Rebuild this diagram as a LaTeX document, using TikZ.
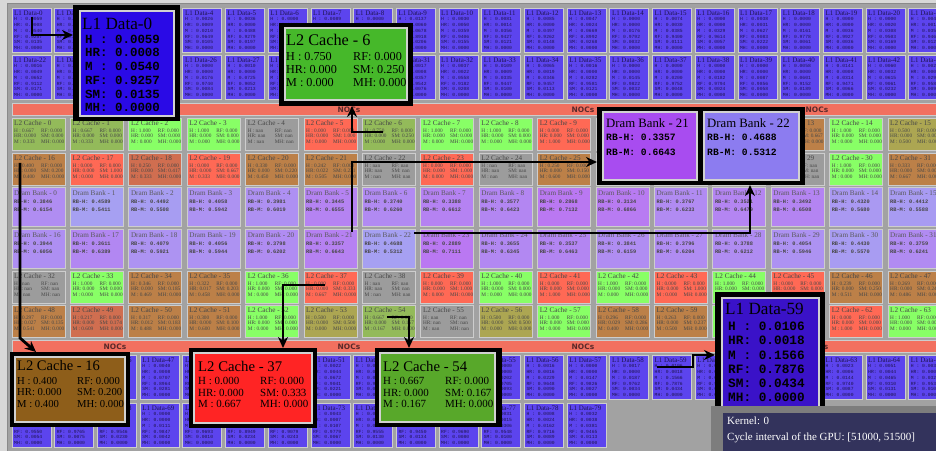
\documentclass[tikz,border=0pt]{standalone}
\usepackage{fontspec}
\setmainfont{Liberation Serif}
\setmonofont{Liberation Mono}
\setsansfont{DejaVu Sans}
\usetikzlibrary{arrows.meta}
\definecolor{outerbg}{HTML}{D8D8D8}
\definecolor{panel}{HTML}{A2A2A2}
\definecolor{paneledge}{HTML}{8A8A8A}
\definecolor{tileedge}{HTML}{CDCDCD}
\definecolor{lonec}{HTML}{5C44EE}
\definecolor{lonetext}{HTML}{1E1450}
\definecolor{nocc}{HTML}{F2705F}
\definecolor{noctext}{HTML}{5A2A2A}
\definecolor{cgreen}{HTML}{88FF66}
\definecolor{cred}{HTML}{FF6955}
\definecolor{cgray}{HTML}{9C9C9C}
\definecolor{cbrown}{HTML}{BC8048}
\definecolor{cbrownred}{HTML}{D06E50}
\definecolor{colive}{HTML}{ACA652}
\definecolor{colgreen}{HTML}{93BA5A}
\definecolor{dpurp}{HTML}{BA78F2}
\definecolor{dlav}{HTML}{A6A0F2}
\definecolor{bigLoneA}{HTML}{2A0AE6}
\definecolor{bigLoneB}{HTML}{3A12C8}
\definecolor{bigSix}{HTML}{46B82A}
\definecolor{bigSixteen}{HTML}{8E5E1A}
\definecolor{bigThirtySeven}{HTML}{FF2424}
\definecolor{bigFiftyFour}{HTML}{58A82A}
\definecolor{bigDramA}{HTML}{A84CF0}
\definecolor{bigDramB}{HTML}{8C7CF0}
\definecolor{infoframe}{HTML}{7D7D7D}
\definecolor{infobg}{HTML}{33335C}
\tikzset{
  tilebox/.style={draw=tileedge, line width=0.8bp, inner sep=0, outer sep=0, anchor=north west},
  lonetile/.style={tilebox, fill=lonec, minimum width=39bp, minimum height=44.5bp},
  ltwotile/.style={tilebox, minimum width=53bp, minimum height=32bp},
  dbtile/.style={tilebox, minimum width=53bp, minimum height=39bp},
  lonettl/.style={anchor=west, inner sep=0, text=lonetext, font=\fontsize{7}{8}\selectfont},
  loneval/.style={anchor=north west, inner sep=0, align=left, text=lonetext, font=\fontsize{4.7}{5.8}\ttfamily},
  ltwottl/.style={anchor=west, inner sep=0, text=black!72, font=\fontsize{7.2}{8}\selectfont},
  ltwoval/.style={anchor=north west, inner sep=0, align=left, text=black!72, font=\fontsize{5.3}{5.5}\selectfont},
  dbttl/.style={anchor=west, inner sep=0, text=black!65, font=\fontsize{7.2}{8}\selectfont},
  dbval/.style={anchor=north west, inner sep=0, align=left, text=black!72, font=\fontsize{5.3}{8}\ttfamily\bfseries},
  nocbar/.style={fill=nocc, draw=tileedge, line width=0.6bp, inner sep=0, anchor=north west, minimum width=940bp, minimum height=12.5bp},
  noclbl/.style={inner sep=0, text=noctext, font=\fontsize{7.5}{8}\sffamily\bfseries},
  bigframe/.style={fill=black, inner sep=0, outer sep=0, anchor=north west},
  biginner/.style={draw=black!18, line width=1.4bp, inner sep=0, outer sep=0, anchor=north west},
  bigttl/.style={anchor=west, inner sep=0, text=black},
  conn/.style={line width=2.8bp, -{Stealth[length=11bp,width=10bp]}},
}
\begin{document}
\begin{tikzpicture}[x=1bp,y=-1bp]
\useasboundingbox (0,0) rectangle (936,451);
\clip (0,0) rectangle (936,451);
\fill[outerbg] (0,0) rectangle (936,451);
\filldraw[fill=panel, draw=paneledge, line width=0.8bp] (7,3.5) rectangle (945,460);

% ---------------- L1 data tiles
\foreach \i/\vH/\vHR/\vM/\vRF/\vSM in {
0/0.0059/0.0008/0.0540/0.9257/0.0135,
1/0.0041/0.0012/0.0498/0.9302/0.0147,
2/0.0023/0.0000/0.0312/0.9581/0.0084,
3/0.0067/0.0021/0.0603/0.9154/0.0155,
4/0.0026/0.0009/0.0210/0.9649/0.0105,
5/0.0036/0.0000/0.0488/0.9279/0.0197,
6/0.0000/0.0000/0.0263/0.9644/0.0093,
7/0.0089/0.0015/0.0521/0.9188/0.0187,
8/0.0000/0.0000/0.0198/0.9736/0.0066,
9/0.0137/0.0060/0.0678/0.8918/0.0206,
10/0.0030/0.0050/0.0359/0.9406/0.0155,
11/0.0081/0.0014/0.0356/0.9427/0.0121,
12/0.0085/0.0000/0.0497/0.9262/0.0148,
13/0.0047/0.0024/0.0669/0.8992/0.0268,
14/0.0000/0.0000/0.0176/0.9792/0.0032,
15/0.0074/0.0030/0.0385/0.9400/0.0111,
16/0.0000/0.0000/0.0329/0.9614/0.0057,
17/0.0038/0.0031/0.0627/0.9083/0.0222,
18/0.0000/0.0000/0.0161/0.9778/0.0061,
19/0.0000/0.0000/0.0036/0.9927/0.0036,
20/0.0000/0.0020/0.0308/0.9503/0.0169,
21/0.0044/0.0011/0.0352/0.9468/0.0125,
22/0.0016/0.0049/0.0652/0.9112/0.0171,
23/0.0052/0.0007/0.0431/0.9376/0.0134,
24/0.0000/0.0000/0.0247/0.9689/0.0064,
25/0.0029/0.0018/0.0573/0.9221/0.0159,
26/0.0000/0.0000/0.0176/0.9740/0.0084,
27/0.0010/0.0000/0.0725/0.9052/0.0213,
28/0.0063/0.0022/0.0384/0.9417/0.0114,
29/0.0000/0.0000/0.0139/0.9815/0.0046,
30/0.0048/0.0013/0.0466/0.9326/0.0147,
31/0.0017/0.0008/0.0357/0.9542/0.0076,
32/0.0037/0.0022/0.0558/0.9182/0.0208,
33/0.0109/0.0009/0.0335/0.9447/0.0100,
34/0.0065/0.0019/0.0346/0.9457/0.0113,
35/0.0016/0.0000/0.0282/0.9581/0.0121,
36/0.0000/0.0000/0.0145/0.9822/0.0032,
37/0.0000/0.0000/0.0200/0.9752/0.0048,
38/0.0000/0.0000/0.0182/0.9794/0.0024,
39/0.0000/0.0000/0.0087/0.9856/0.0058,
40/0.0058/0.0000/0.0601/0.9152/0.0189,
41/0.0141/0.0008/0.0314/0.9471/0.0066,
42/0.0060/0.0032/0.0615/0.9061/0.0232,
43/0.0027/0.0006/0.0293/0.9583/0.0091,
44/0.0035/0.0012/0.0388/0.9446/0.0119,
45/0.0000/0.0000/0.0213/0.9711/0.0076,
46/0.0071/0.0017/0.0512/0.9231/0.0169,
47/0.0040/0.0008/0.0707/0.8964/0.0281,
48/0.0019/0.0004/0.0341/0.9552/0.0084,
49/0.0046/0.0021/0.0459/0.9337/0.0137,
50/0.0000/0.0000/0.0162/0.9793/0.0045,
51/0.0022/0.0044/0.0672/0.9041/0.0221,
52/0.0058/0.0010/0.0404/0.9392/0.0136,
53/0.0013/0.0000/0.0255/0.9661/0.0071,
54/0.0087/0.0026/0.0566/0.9143/0.0178,
55/0.0000/0.0000/0.0202/0.9705/0.0093,
56/0.0016/0.0016/0.0229/0.9648/0.0090,
57/0.0000/0.0000/0.0147/0.9826/0.0027,
58/0.0017/0.0000/0.0187/0.9762/0.0034,
59/0.0106/0.0018/0.1566/0.7876/0.0434,
60/0.0039/0.0011/0.0328/0.9513/0.0109,
61/0.0051/0.0000/0.0442/0.9357/0.0150,
62/0.0000/0.0000/0.0178/0.9773/0.0049,
63/0.0023/0.0006/0.0144/0.9740/0.0087,
64/0.0051/0.0044/0.0465/0.9310/0.0131,
65/0.0030/0.0009/0.0327/0.9531/0.0103,
66/0.0014/0.0007/0.0375/0.9550/0.0054,
67/0.0000/0.0000/0.0160/0.9765/0.0075,
68/0.0028/0.0012/0.0184/0.9546/0.0230,
69/0.0000/0.0000/0.0111/0.9847/0.0042,
70/0.0019/0.0000/0.0278/0.9693/0.0010,
71/0.0064/0.0025/0.0728/0.8949/0.0234,
72/0.0057/0.0031/0.0590/0.9079/0.0243,
73/0.0043/0.0007/0.0107/0.9779/0.0067,
74/0.0012/0.0005/0.0298/0.9555/0.0130,
75/0.0033/0.0016/0.0367/0.9450/0.0134,
76/0.0000/0.0000/0.0230/0.9690/0.0080,
77/0.0031/0.0015/0.0306/0.9548/0.0100,
78/0.0008/0.0024/0.0162/0.9716/0.0089,
79/0.0032/0.0038/0.0381/0.9465/0.0113}{
  \pgfmathsetmacro\tx{12+42.7*mod(\i,22)}
  \pgfmathsetmacro\ty{{8,55,355,403}[int(\i/22)]}
  \node[lonetile] (l1-\i) at (\tx,\ty) {};
  \node[lonettl] (l1t-\i) at ([shift={(2,5.5)}]l1-\i.north west) {L1 Data-\i};
  \node[loneval] (l1v-\i) at ([shift={(2,9.5)}]l1-\i.north west) {H : \vH\\HR: \vHR\\M : \vM\\RF: \vRF\\SM: \vSM\\MH: 0.0000};
}

% ---------------- NoC bars
\node[nocbar] (noc-top) at (12,103) {};
\node[nocbar] (noc-bot) at (12,340) {};
\foreach \k/\xx in {1/115,2/349,3/583,4/817}{
  \node[noclbl] (noct-\k) at (\xx,109.3) {NOCs};
  \node[noclbl] (nocb-\k) at (\xx,346.3) {NOCs};
}

% ---------------- L2 cache tiles
\foreach \i/\cc/\vH/\vHR/\vM/\vRF/\vSM/\vMH in {
0/colgreen/0.667/0.000/0.333/0.000/0.000/0.000,
1/colgreen/0.667/0.000/0.333/0.000/0.000/0.000,
2/cgreen/1.000/0.000/0.000/0.000/0.000/0.000,
3/cgreen/1.000/0.000/0.000/0.000/0.000/0.000,
4/cgray/nan/nan/nan/nan/nan/nan,
5/cred/0.000/0.000/0.000/0.000/1.000/0.000,
6/colgreen/0.750/0.000/0.000/0.000/0.250/0.000,
7/cgreen/1.000/0.000/0.000/0.000/0.000/0.000,
8/cgreen/1.000/0.000/0.000/0.000/0.000/0.000,
9/cred/0.000/0.000/1.000/0.000/0.000/0.000,
10/cgreen/1.000/0.000/0.000/0.000/0.000/0.000,
11/cbrown/0.400/0.000/0.400/0.000/0.200/0.000,
12/cred/0.000/0.000/1.000/0.000/0.000/0.000,
13/cbrown/0.333/0.000/0.000/0.000/0.667/0.000,
14/cgreen/1.000/0.000/0.000/0.000/0.000/0.000,
15/colive/0.500/0.000/0.500/0.000/0.000/0.000,
16/cbrown/0.400/0.000/0.400/0.000/0.200/0.000,
17/cred/0.000/0.000/0.000/0.000/1.000/0.000,
18/cbrownred/0.250/0.000/0.333/0.000/0.417/0.000,
19/cred/0.000/0.000/0.333/0.000/0.667/0.000,
20/cbrown/0.330/0.000/0.450/0.000/0.220/0.000,
21/cbrown/0.242/0.022/0.505/0.000/0.231/0.000,
22/cgray/nan/nan/nan/nan/nan/nan,
23/cred/0.000/0.000/0.000/0.000/1.000/0.000,
24/cgray/nan/nan/nan/nan/nan/nan,
25/cbrown/0.250/0.000/0.600/0.000/0.150/0.000,
26/cgreen/1.000/0.000/0.000/0.000/0.000/0.000,
27/cbrown/0.286/0.000/0.571/0.000/0.143/0.000,
28/cgray/nan/nan/nan/nan/nan/nan,
29/cgray/nan/nan/nan/nan/nan/nan,
30/cgreen/1.000/0.000/0.000/0.000/0.000/0.000,
31/cbrown/0.333/0.000/0.667/0.000/0.000/0.000,
32/cgray/nan/nan/nan/nan/nan/nan,
33/cgreen/1.000/0.000/0.000/0.000/0.000/0.000,
34/cbrown/0.346/0.000/0.469/0.000/0.185/0.000,
35/cbrown/0.322/0.017/0.458/0.000/0.203/0.000,
36/cgreen/1.000/0.000/0.000/0.000/0.000/0.000,
37/cred/0.000/0.000/0.667/0.000/0.333/0.000,
38/cgray/nan/nan/nan/nan/nan/nan,
39/cred/0.000/0.000/0.000/0.000/1.000/0.000,
40/cgreen/1.000/0.000/0.000/0.000/0.000/0.000,
41/cred/0.000/0.000/1.000/0.000/0.000/0.000,
42/cgreen/1.000/0.000/0.000/0.000/0.000/0.000,
43/cred/0.000/0.000/0.000/0.000/1.000/0.000,
44/cgreen/1.000/0.000/0.000/0.000/0.000/0.000,
45/cred/0.000/0.000/1.000/0.000/0.000/0.000,
46/cbrown/0.239/0.000/0.511/0.000/0.250/0.000,
47/cbrown/0.269/0.000/0.486/0.000/0.245/0.000,
48/cbrown/0.297/0.027/0.541/0.000/0.135/0.000,
49/cbrownred/0.217/0.000/0.609/0.000/0.174/0.000,
50/cbrown/0.317/0.012/0.488/0.000/0.183/0.000,
51/cbrown/0.300/0.000/0.600/0.000/0.100/0.000,
52/cgreen/1.000/0.000/0.000/0.000/0.000/0.000,
53/colive/0.500/0.000/0.000/0.000/0.500/0.000,
54/colgreen/0.667/0.000/0.167/0.000/0.167/0.000,
55/cgray/nan/nan/nan/nan/nan/nan,
56/colive/0.500/0.000/0.000/0.000/0.500/0.000,
57/cgreen/1.000/0.000/0.000/0.000/0.000/0.000,
58/cbrown/0.296/0.029/0.400/0.000/0.286/0.000,
59/cbrown/0.263/0.000/0.500/0.000/0.237/0.000,
60/cgreen/1.000/0.000/0.000/0.000/0.000/0.000,
61/cbrown/0.333/0.000/0.500/0.000/0.167/0.000,
62/cred/0.000/0.000/1.000/0.000/0.000/0.000,
63/cgreen/1.000/0.000/0.000/0.000/0.000/0.000}{
  \pgfmathsetmacro\tx{12+58.4*mod(\i,16)}
  \pgfmathsetmacro\ty{{118,153,271,305}[int(\i/16)]}
  \node[ltwotile, fill=\cc] (l2-\i) at (\tx,\ty) {};
  \node[ltwottl] (l2t-\i) at ([shift={(2,5.5)}]l2-\i.north west) {L2 Cache - \i};
  \node[ltwoval] (l2v-\i) at ([shift={(2,10.5)}]l2-\i.north west)
    {\makebox[27bp][l]{H : \vH}RF: \vRF\\\makebox[27bp][l]{HR: \vHR}SM: \vSM\\\makebox[27bp][l]{M : \vM}MH: \vMH};
}

% ---------------- DRAM bank tiles
\foreach \i/\rh/\rm in {
0/0.3846/0.6154, 1/0.4589/0.5411, 2/0.4492/0.5508, 3/0.4058/0.5942,
4/0.3981/0.6019, 5/0.3445/0.6555, 6/0.3740/0.6260, 7/0.3388/0.6612,
8/0.3577/0.6423, 9/0.2868/0.7132, 10/0.3134/0.6866, 11/0.3767/0.6233,
12/0.3521/0.6479, 13/0.3492/0.6508, 14/0.4320/0.5680, 15/0.4412/0.5588,
16/0.3944/0.6056, 17/0.3611/0.6389, 18/0.4079/0.5921, 19/0.4056/0.5944,
20/0.3798/0.6202, 21/0.3357/0.6643, 22/0.4688/0.5312, 23/0.2889/0.7111,
24/0.3655/0.6345, 25/0.3537/0.6463, 26/0.3841/0.6159, 27/0.3796/0.6204,
28/0.3788/0.6212, 29/0.4054/0.5946, 30/0.4430/0.5570, 31/0.3759/0.6241}{
  \pgfmathsetmacro\tx{12+58.4*mod(\i,16)}
  \pgfmathsetmacro\ty{{187,229}[int(\i/16)]}
  \pgfmathtruncatemacro\mx{max(0,min(100,(\rh-0.30)*100/0.16))}
  \node[dbtile, fill=dlav!\mx!dpurp] (db-\i) at (\tx,\ty) {};
  \node[dbttl] (dbt-\i) at ([shift={(2,6)}]db-\i.north west) {Dram Bank - \i};
  \node[dbval] (dbv-\i) at ([shift={(2,12.5)}]db-\i.north west) {RB-H: \rh\\RB-M: \rm};
}

% ---------------- enlarged callouts
% L1 Data-0
\node[bigframe, minimum width=107bp, minimum height=116bp] (bx-l1-0) at (73,5) {};
\node[biginner, fill=bigLoneA, minimum width=94bp, minimum height=105bp] (bxi-l1-0) at (80,11) {};
\node[bigttl, font=\fontsize{17.2}{18}\selectfont] (bxt-l1-0) at (82,24) {L1 Data-0};
\node[anchor=north west, inner sep=0, align=left, font=\fontsize{12.5}{13.8}\ttfamily\bfseries] (bxv-l1-0) at (85,34.5)
  {H : 0.0059\\HR: 0.0008\\M : 0.0540\\RF: 0.9257\\SM: 0.0135\\MH: 0.0000};

% L1 Data-59
\node[bigframe, minimum width=110bp, minimum height=121bp] (bx-l1-59) at (715,292) {};
\node[biginner, fill=bigLoneB, minimum width=97bp, minimum height=109bp] (bxi-l1-59) at (722,298) {};
\node[bigttl, font=\fontsize{17.2}{18}\selectfont] (bxt-l1-59) at (725,309) {L1 Data-59};
\node[anchor=north west, inner sep=0, align=left, font=\fontsize{12.8}{14.2}\ttfamily\bfseries] (bxv-l1-59) at (728,322)
  {H : 0.0106\\HR: 0.0018\\M : 0.1566\\RF: 0.7876\\SM: 0.0434\\MH: 0.0000};

% L2 Cache - 6
\node[bigframe, minimum width=134bp, minimum height=83bp] (bx-l2-6) at (279,23) {};
\node[biginner, fill=bigSix, minimum width=122bp, minimum height=72bp] (bxi-l2-6) at (285,28) {};
\node[bigttl, font=\fontsize{16.3}{18}\selectfont] (bxt-l2-6) at (286,40) {L2 Cache - 6};
\node[anchor=north west, inner sep=0, align=left, font=\fontsize{12.2}{12.7}\selectfont] (bxv-l2-6) at (286,52.5)
  {\makebox[67bp][l]{H : 0.750}RF: 0.000\\\makebox[67bp][l]{HR: 0.000}SM: 0.250\\\makebox[67bp][l]{M : 0.000}MH: 0.000};

% L2 Cache - 16
\node[bigframe, minimum width=120bp, minimum height=75bp] (bx-l2-16) at (10,352) {};
\node[biginner, fill=bigSixteen, minimum width=110bp, minimum height=65bp] (bxi-l2-16) at (15,357) {};
\node[bigttl, font=\fontsize{14.6}{16}\selectfont] (bxt-l2-16) at (17,366) {L2 Cache - 16};
\node[anchor=north west, inner sep=0, align=left, font=\fontsize{10.7}{11.6}\selectfont] (bxv-l2-16) at (17,377)
  {\makebox[60bp][l]{H : 0.400}RF: 0.000\\\makebox[60bp][l]{HR: 0.000}SM: 0.200\\\makebox[60bp][l]{M : 0.400}MH: 0.000};

% L2 Cache - 37
\node[bigframe, minimum width=128bp, minimum height=80bp] (bx-l2-37) at (189,348) {};
\node[biginner, fill=bigThirtySeven, minimum width=118bp, minimum height=70bp] (bxi-l2-37) at (194,353) {};
\node[bigttl, font=\fontsize{14.8}{16}\selectfont] (bxt-l2-37) at (198,366) {L2 Cache - 37};
\node[anchor=north west, inner sep=0, align=left, font=\fontsize{11}{11.6}\selectfont] (bxv-l2-37) at (198,377)
  {\makebox[62bp][l]{H : 0.000}RF: 0.000\\\makebox[62bp][l]{HR: 0.000}SM: 0.333\\\makebox[62bp][l]{M : 0.667}MH: 0.000};

% L2 Cache - 54
\node[bigframe, minimum width=127bp, minimum height=79bp] (bx-l2-54) at (375,348) {};
\node[biginner, fill=bigFiftyFour, minimum width=115bp, minimum height=69bp] (bxi-l2-54) at (380,353) {};
\node[bigttl, font=\fontsize{14.8}{16}\selectfont] (bxt-l2-54) at (383,366) {L2 Cache - 54};
\node[anchor=north west, inner sep=0, align=left, font=\fontsize{11}{11.6}\selectfont] (bxv-l2-54) at (383,377)
  {\makebox[62bp][l]{H : 0.667}RF: 0.000\\\makebox[62bp][l]{HR: 0.000}SM: 0.167\\\makebox[62bp][l]{M : 0.167}MH: 0.000};

% Dram Bank - 21 / 22
\node[bigframe, minimum width=208bp, minimum height=78bp] (bx-db) at (597,107) {};
\node[biginner, fill=bigDramA, minimum width=94bp, minimum height=68bp] (bxi-db-21) at (603,112) {};
\node[biginner, fill=bigDramB, minimum width=95bp, minimum height=68bp] (bxi-db-22) at (704,112) {};
\node[bigttl, font=\fontsize{12.8}{14}\selectfont] (bxt-db-21) at (606,123) {Dram Bank - 21};
\node[bigttl, font=\fontsize{12.8}{14}\selectfont] (bxt-db-22) at (707,123) {Dram Bank - 22};
\node[anchor=north west, inner sep=0, align=left, font=\fontsize{9.7}{15}\ttfamily\bfseries] (bxv-db-21) at (606,134)
  {RB-H: 0.3357\\RB-M: 0.6643};
\node[anchor=north west, inner sep=0, align=left, font=\fontsize{9.7}{15}\ttfamily\bfseries] (bxv-db-22) at (707,134)
  {RB-H: 0.4688\\RB-M: 0.5312};

% ---------------- connectors
\draw[conn] ([shift={(20,9)}]l1-0.north west) |- ([shift={(0,30)}]bx-l1-0.north west);
\draw[conn] ([shift={(21,14)}]l2-6.north west) -| ([shift={(73,0)}]bx-l2-6.south west);
\draw[conn] ([shift={(48,3)}]db-21.north west) |- ([shift={(0,55)}]bx-db.north west);
\draw[conn] ([shift={(52,4)}]db-22.north west) -| ([shift={(153,0)}]bx-db.south west);
\draw[conn] ([shift={(8,10)}]l2-16.north west) -- ([shift={(8,185)}]l2-16.north west) -- ([shift={(26,0)}]bx-l2-16.north west);
\draw[conn] ([shift={(21,14)}]l2-37.north west) -| ([shift={(94,0)}]bx-l2-37.north west);
\draw[conn] ([shift={(25,12)}]l2-54.north west) -| ([shift={(34,0)}]bx-l2-54.north west);
\draw[conn] ([shift={(4.5,12)}]l1-59.north west) -- ++(36,0) |- ([shift={(0,63)}]bx-l1-59.north west);

% ---------------- info box
\node[fill=infoframe, inner sep=0, anchor=north west, minimum width=230bp, minimum height=50bp] (info-frame) at (711,406) {};
\node[fill=infobg, inner sep=0, anchor=north west, minimum width=220bp, minimum height=45bp] (info) at (723,413) {};
\node[anchor=west, inner sep=0, text=white, font=\fontsize{11}{12}\selectfont] (info-k) at (727,421) {Kernel: 0};
\node[anchor=west, inner sep=0, text=white, font=\fontsize{11}{12}\selectfont] (info-c) at (727,438) {Cycle interval of the GPU: [51000, 51500]};
\end{tikzpicture}
\end{document}
